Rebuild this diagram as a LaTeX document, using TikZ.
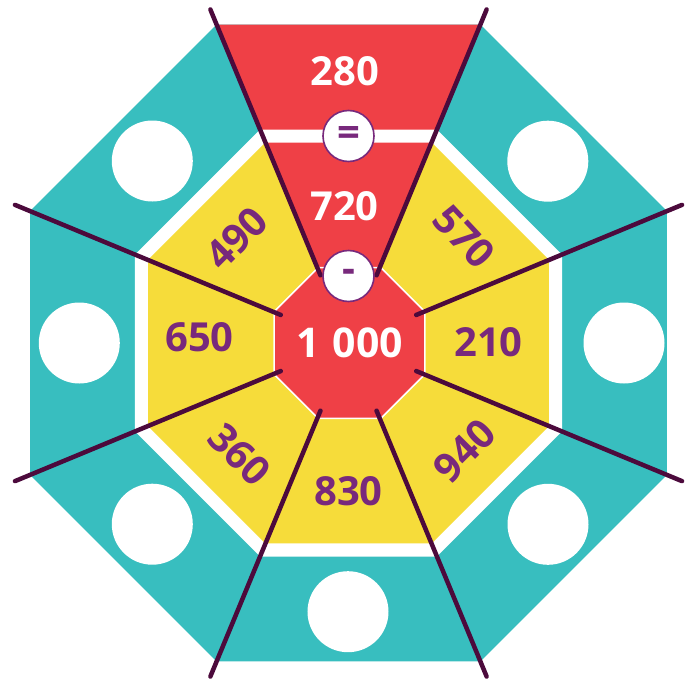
\documentclass[tikz,border=0pt]{standalone}
\usepackage{fontspec}
\setmainfont{Open Sans}
\usepackage{tikz}
\usetikzlibrary{shapes.geometric}
\definecolor{tileteal}{RGB}{56,190,191}
\definecolor{tileyellow}{RGB}{246,220,58}
\definecolor{tilered}{RGB}{239,64,70}
\definecolor{spokecol}{RGB}{76,10,60}
\definecolor{numpurple}{RGB}{120,41,124}

\begin{document}
\begin{tikzpicture}[x=1pt,y=1pt,font=\bfseries\fontsize{40}{42}\selectfont,
  oct/.style={regular polygon,regular polygon sides=8,inner sep=0pt,outer sep=0pt},
  spoke/.style={draw=spokecol,line width=4.5pt,line cap=round},
  hole/.style={circle,fill=white,minimum size=81pt,inner sep=0pt},
  num/.style={text=numpurple,inner sep=0pt},
  sign/.style={circle,fill=white,draw=numpurple,line width=1.6pt,minimum size=51pt,inner sep=0pt,text=numpurple}]
\useasboundingbox (-348.5,-338) rectangle (344.5,343);
\node[oct,fill=tileteal,minimum size=689.4pt] (rim) at (0,0) {};
\node[oct,fill=white,minimum size=462.2pt] (gap) at (0,0) {};
\node[oct,fill=tileyellow,minimum size=434pt] (field) at (0,0) {};
\fill[tilered] (0,0) -- (67.5:344.7) -- (112.5:344.7) -- cycle;
\fill[white] (67.5:217) -- (67.5:231.1) -- (112.5:231.1) -- (112.5:217) -- cycle;
\node[oct,fill=tilered,draw=white,line width=1.5pt,minimum size=146.6pt,text=white,font=\bfseries\fontsize{41}{43}\selectfont] (hub) at (1,0) {1\hspace{0.32em}000};
\draw[spoke] (22.5:73.3) -- (22.5:361);
\draw[spoke] (67.5:73.3) -- (67.5:361);
\draw[spoke] (112.5:73.3) -- (112.5:361);
\draw[spoke] (157.5:73.3) -- (157.5:361);
\draw[spoke] (202.5:73.3) -- (202.5:361);
\draw[spoke] (247.5:73.3) -- (247.5:361);
\draw[spoke] (292.5:73.3) -- (292.5:361);
\draw[spoke] (337.5:73.3) -- (337.5:361);
\node[hole] (hole-e) at (275.5,0) {};
\node[hole] (hole-ne) at (199.3,181.8) {};
\node[hole] (hole-nw) at (-196.2,182) {};
\node[hole] (hole-w) at (-269.2,0) {};
\node[hole] (hole-sw) at (-196.2,-181.2) {};
\node[hole] (hole-s) at (-0.5,-268.7) {};
\node[hole] (hole-se) at (199.5,-181.3) {};
\node[text=white,inner sep=0pt] (top-out) at (-3.5,272.3) {280};
\node[text=white,inner sep=0pt] (top-in) at (-4,137.3) {720};
\node[num,rotate=-47] (num-ne) at (116,106.3) {570};
\node[num] (num-e) at (140,1.3) {210};
\node[num,rotate=45] (num-se) at (115.7,-107.8) {940};
\node[num] (num-s) at (0,-148) {830};
\node[num,rotate=-45] (num-sw) at (-108.5,-111.5) {360};
\node[num] (num-w) at (-149,5.5) {650};
\node[num,rotate=45] (num-nw) at (-112,105) {490};
\node[sign] (op-eq) at (0,207) {=};
\node[sign] (op-minus) at (0,67) {-};
\end{tikzpicture}
\end{document}
